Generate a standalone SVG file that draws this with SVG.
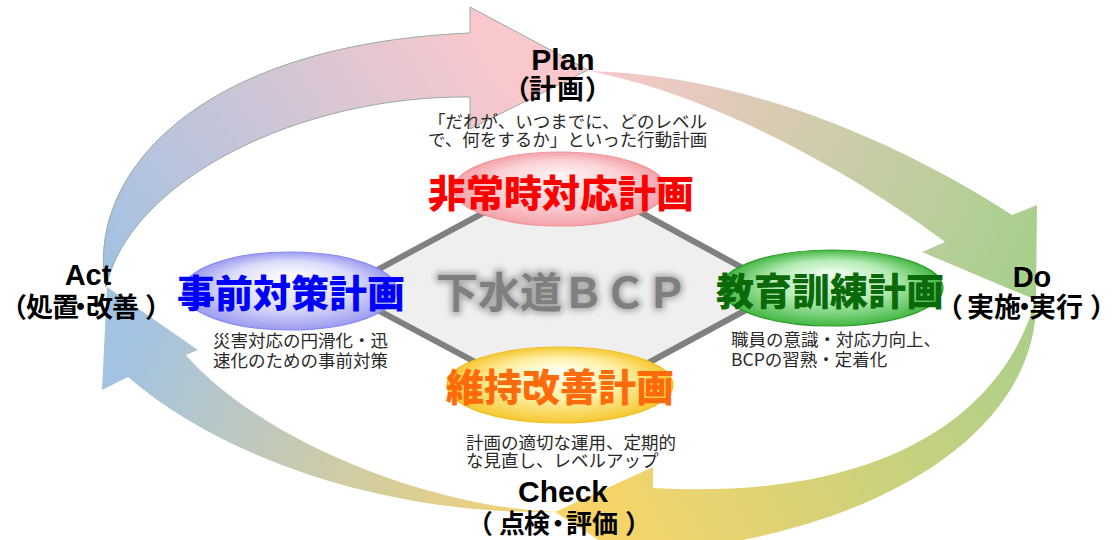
<svg xmlns="http://www.w3.org/2000/svg" width="1118" height="540" viewBox="0 0 1118 540">
<defs>
<style>
.lbl{font-family:"Liberation Sans","Noto Sans CJK JP",sans-serif;font-weight:bold;font-size:29px;fill:#000;text-anchor:middle}
.lblj{font-family:"Noto Sans CJK JP",sans-serif;font-weight:bold;font-size:27px;fill:#000}
.ttl{font-family:"Noto Sans CJK JP",sans-serif;font-weight:900;font-size:38px;text-anchor:middle}
.desc{font-family:"Noto Sans CJK JP",sans-serif;font-size:17.5px;fill:#2a2a2a}
.ctr{font-family:"Noto Sans CJK JP",sans-serif;font-weight:bold;font-size:42px;text-anchor:middle}
</style>
<linearGradient id="gA" gradientUnits="userSpaceOnUse" x1="100" y1="280" x2="480" y2="40">
<stop offset="0" stop-color="#a0c2e2"/><stop offset="1" stop-color="#f8c8cc"/></linearGradient>
<linearGradient id="gB" gradientUnits="userSpaceOnUse" x1="590" y1="70" x2="1030" y2="260">
<stop offset="0" stop-color="#f8c8cc"/><stop offset="1" stop-color="#a8cf8c"/></linearGradient>
<linearGradient id="gC" gradientUnits="userSpaceOnUse" x1="1036" y1="300" x2="600" y2="520">
<stop offset="0" stop-color="#a8cf8c"/><stop offset="1" stop-color="#f8d468"/></linearGradient>
<linearGradient id="gD" gradientUnits="userSpaceOnUse" x1="555" y1="512" x2="130" y2="340">
<stop offset="0" stop-color="#f5d370"/><stop offset="1" stop-color="#a3c3e3"/></linearGradient>
<radialGradient id="eP" cx="50%" cy="50%" r="50%" fx="50%" fy="30%">
<stop offset="0" stop-color="#fff4f4"/><stop offset="0.6" stop-color="#fbd2d5"/><stop offset="1" stop-color="#f4a3aa"/></radialGradient>
<radialGradient id="eB" cx="50%" cy="50%" r="50%" fx="50%" fy="30%">
<stop offset="0" stop-color="#ffffff"/><stop offset="0.6" stop-color="#dcdcfb"/><stop offset="1" stop-color="#9c9cf0"/></radialGradient>
<radialGradient id="eG" cx="50%" cy="50%" r="50%" fx="50%" fy="30%">
<stop offset="0" stop-color="#f2fff2"/><stop offset="0.55" stop-color="#b4ebb4"/><stop offset="1" stop-color="#44b844"/></radialGradient>
<radialGradient id="eY" cx="50%" cy="50%" r="50%" fx="50%" fy="30%">
<stop offset="0" stop-color="#fffff2"/><stop offset="0.55" stop-color="#fff0a6"/><stop offset="1" stop-color="#f6c832"/></radialGradient>
<filter id="glow" x="-10%" y="-30%" width="120%" height="160%">
<feGaussianBlur stdDeviation="3"/></filter>
</defs>
<rect width="1118" height="540" fill="#fff"/>

<g id="connectors">
<path id="act-plan" fill="url(#gA)" stroke="#9aaba0" stroke-width="1" d="M106,287 C85,180 190,45 470,33 L470,7 L588,70 L470,129 L470,97 C300,95 130,180 106,287 Z"/>
<path id="plan-do" fill="url(#gB)" d="M588,71 C760,75 920,155 1012,215 L1037,205 L1036,300 L922,252 L945,242 C870,185 720,95 588,71 Z"/>
<path id="do-check" fill="url(#gC)" d="M1036,298 C1040,420 900,530 653,553 L653,575 L555,512 L653,467 L653,488 C860,500 1000,430 1036,298 Z"/>
<path id="check-act" fill="url(#gD)" d="M555,512 C400,515 230,465 128,377 L102,390 L107,287 L198,350 L186,355 C250,430 410,505 555,512 Z"/>
</g>

<g id="bcp">
<polygon points="563,170 783,290 563,409 340,290" fill="#efefef" stroke="#808080" stroke-width="6" stroke-linejoin="miter"/>
<text class="ctr" x="562" y="308" fill="#999999" stroke="#a8a8a8" stroke-width="5" filter="url(#glow)">下水道ＢＣＰ</text>
<text class="ctr" x="562" y="308" fill="#7f7f7f">下水道ＢＣＰ</text>
</g>

<g id="hijoji">
<ellipse cx="560" cy="189" rx="106" ry="37" fill="url(#eP)" stroke="#f0959c" stroke-width="1.2"/>
<text class="ttl" x="561" y="207" fill="#ff0000">非常時対応計画</text>
</g>

<g id="jizen">
<ellipse cx="290" cy="291" rx="107" ry="39" fill="url(#eB)" stroke="#8a8af2" stroke-width="1.2"/>
<text class="ttl" x="291" y="307" fill="#0000ff">事前対策計画</text>
</g>

<g id="kyoiku">
<ellipse cx="832" cy="288" rx="111" ry="38" fill="url(#eG)" stroke="#2c9c2c" stroke-width="1.2"/>
<text class="ttl" x="830" y="305" fill="#0a6a0a">教育訓練計画</text>
</g>

<g id="iji">
<ellipse cx="560" cy="385" rx="113" ry="38" fill="url(#eY)" stroke="#eebf22" stroke-width="1.2"/>
<text class="ttl" x="560" y="401" fill="#ff6a0a">維持改善計画</text>
</g>

<g id="plan">
<text class="lbl" x="563" y="70" style="font-size:30px">Plan</text>
<text class="lblj" x="503 529 557 585" y="99">（計画）</text>
<text class="desc" x="428" y="128">「だれが、いつまでに、どのレベル</text>
<text class="desc" x="428" y="146">で、何をするか」といった行動計画</text>
</g>

<g id="do">
<text class="lbl" x="1032" y="287">Do</text>
<text class="lblj" x="936 967 994 1011 1029 1056 1090" y="317">（実施・実行）</text>
</g>

<g id="check">
<text class="lbl" x="563" y="502" style="font-size:30px">Check</text>
<text class="lblj" x="467 499 524 545 566 592 625" y="533" style="font-size:26px">（点検・評価）</text>
</g>

<g id="act">
<text class="lbl" x="88" y="285">Act</text>
<text class="lblj" x="0 26 52 67 86 112 145" y="317">（処置・改善）</text>
</g>

<g id="descs">
<text class="desc" x="213" y="347">災害対応の円滑化・迅</text>
<text class="desc" x="213" y="367">速化のための事前対策</text>
<text class="desc" x="731" y="346">職員の意識・対応力向上、</text>
<text class="desc" x="731" y="366">BCPの習熟・定着化</text>
<text class="desc" x="466" y="449">計画の適切な運用、定期的</text>
<text class="desc" x="466" y="467">な見直し、レベルアップ</text>
</g>
</svg>
